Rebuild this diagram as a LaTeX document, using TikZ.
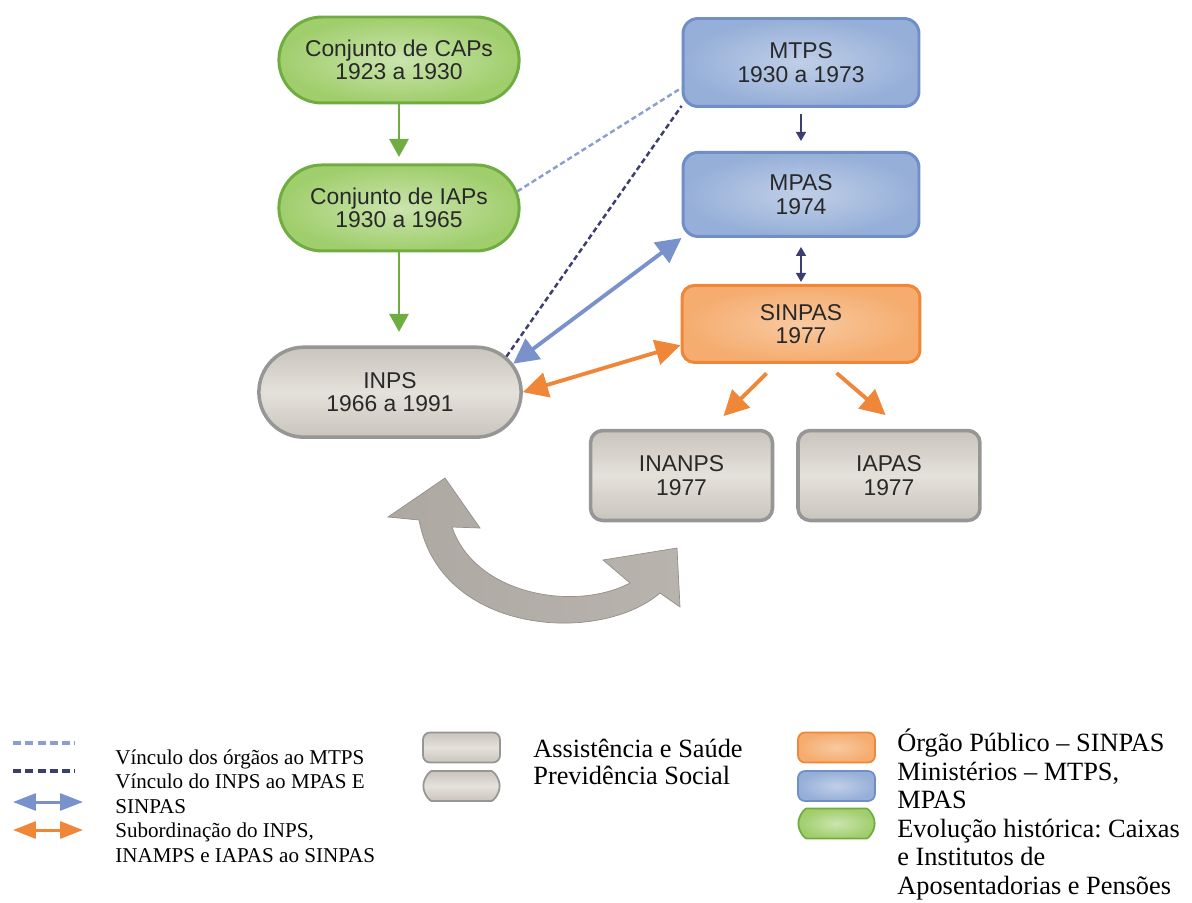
\documentclass[tikz,border=0pt]{standalone}
\usepackage{fontspec}
\setmainfont{Liberation Serif}
\newfontfamily\arialfont{Liberation Sans}
\usepackage{xcolor}
\usetikzlibrary{positioning,shapes.misc,arrows.meta,calc}
\frenchspacing

\definecolor{capfill}{RGB}{160,206,108}
\definecolor{capline}{RGB}{112,173,64}
\definecolor{minfill}{RGB}{150,175,216}
\definecolor{minline}{RGB}{112,142,200}
\definecolor{sinfill}{RGB}{245,172,110}
\definecolor{sinline}{RGB}{239,134,56}
\definecolor{prevfill}{RGB}{214,209,200}
\definecolor{prevline}{RGB}{150,150,150}
\definecolor{linklight}{RGB}{140,158,208}
\definecolor{linkdark}{RGB}{60,62,112}
\definecolor{linkblue}{RGB}{122,146,204}
\definecolor{arrowgray}{RGB}{184,179,172}
\definecolor{txtgray}{RGB}{40,40,40}

\begin{document}
\begin{tikzpicture}[
  x=0.02cm, y=-0.02cm,
  every node/.style={font=\arialfont\fontsize{13}{13.4}\selectfont,
                     text=txtgray, align=center},
  capbox/.style ={rounded rectangle, draw=capline, line width=1.7pt,
                  inner color=capfill!55!white, outer color=capfill,
                  minimum width=5.04cm, minimum height=1.72cm},
  minbox/.style ={rectangle, rounded corners=8.5pt, draw=minline,
                  line width=1.7pt, inner color=minfill!60!white,
                  outer color=minfill, minimum width=4.72cm,
                  minimum height=1.76cm},
  sinbox/.style ={rectangle, rounded corners=7pt, draw=sinline,
                  line width=1.7pt, inner color=sinfill!65!white,
                  outer color=sinfill, minimum width=4.76cm,
                  minimum height=1.54cm},
  prevcol/.style={draw=prevline, line width=2pt,
                  top color=prevfill!94!black, bottom color=prevfill!94!black,
                  middle color=prevfill!65!white},
  prevbox/.style={prevcol, rectangle, rounded corners=7pt,
                  minimum width=3.64cm, minimum height=1.8cm},
  prevpill/.style={prevcol, rounded rectangle,
                  minimum width=5.48cm, minimum height=1.8cm},
  legsample/.style={line width=1pt, minimum width=1.54cm,
                  minimum height=0.6cm, rounded corners=4pt},
  legpillw/.style={minimum width=1.76cm},
  legtxt/.style ={font=\fontsize{12}{13.9}\selectfont, text=black,
                  align=left, inner sep=0pt, anchor=base west},
  legbig/.style ={legtxt, font=\fontsize{15}{15.3}\selectfont},
  legbigr/.style={legtxt, font=\fontsize{15}{16.2}\selectfont},
  garr/.style   ={draw=capline, line width=1.6pt,
                  -{Triangle[length=0.36cm,width=0.38cm]}},
  narr/.style   ={draw=linkdark, line width=0.9pt,
                  -{Triangle[length=0.18cm,width=0.2cm]}},
  barr/.style   ={draw=linkblue, line width=2.2pt,
                  {Triangle[length=0.5cm,width=0.5cm]}-{Triangle[length=0.5cm,width=0.5cm]}},
  oarr/.style   ={draw=sinline, line width=2.2pt,
                  -{Triangle[length=0.5cm,width=0.5cm]}},
  lnklight/.style={draw=linklight, line width=1.4pt,
                  dash pattern=on 3pt off 1.8pt},
  lnkdark/.style={draw=linkdark, line width=1.4pt,
                  dash pattern=on 3pt off 1.8pt}
]
\useasboundingbox (0,0) rectangle (1192,902);

% caixas e institutos
\node[capbox] (caps) at (399,60) {Conjunto de CAPs\\1923 a 1930};
\node[capbox, below=1.18cm of caps] (iaps) {Conjunto de IAPs\\1930 a 1965};
\node[prevpill, below=1.86cm of iaps, xshift=-0.18cm] (inps)
     {INPS\\1966 a 1991};

% ministerios e SINPAS
\node[minbox] (mtps) at (801,62.5) {MTPS\\1930 a 1973};
\node[minbox, minimum height=1.68cm, below=0.86cm of mtps] (mpas)
     {MPAS\\1974};
\node[sinbox, below=0.92cm of mpas] (sinpas) {SINPAS\\1977};
\node[prevbox] (inanps) at (681.5,475.5) {INANPS\\1977};
\node[prevbox, right=0.44cm of inanps] (iapas) {IAPAS\\1977};

\draw[garr, shorten >=0.13cm] (caps.south) -- (iaps.north);
\draw[garr, shorten >=0.27cm] (iaps.south) -- (iaps.south |- inps.north);
\draw[narr, shorten <=0.12cm, shorten >=0.2cm] (mtps.south) -- (mpas.north);
\draw[narr, {Triangle[length=0.18cm,width=0.2cm]}-{Triangle[length=0.18cm,width=0.2cm]},
      shorten <=0.18cm, shorten >=0.04cm] (mpas.south) -- (sinpas.north);

\draw[lnklight] (iaps.8) -- (mtps.192);
\draw[lnkdark] (inps.17) -- (mtps.200);
\draw[barr] (inps.13) -- (mpas.south west);
\draw[oarr, {Triangle[length=0.5cm,width=0.5cm]}-{Triangle[length=0.5cm,width=0.5cm]}]
  (inps.east) -- (sinpas.190);
\draw[oarr, shorten <=0.27cm, shorten >=0.36cm] (sinpas.238) -- (inanps.58);
\draw[oarr, shorten <=0.28cm, shorten >=0.42cm] (sinpas.302) -- (iapas.75);

% seta curva
\shade[left color=arrowgray!94!black, middle color=arrowgray!40!white,
       right color=arrowgray, draw=arrowgray!80!black, line width=0.4pt]
  (677,548) -- (680,607) -- (660,593)
  .. controls (600,645) and (440,635) .. (419,520)
  -- (388,517) -- (445,478) -- (480,528) -- (452,527)
  .. controls (475,595) and (575,612) .. (630,583)
  -- (603,560) -- cycle;

% legenda
\coordinate (la1) at (13,743);  \coordinate (la2) at (75,743);
\coordinate (lb1) at (13,771);  \coordinate (lb2) at (75,771);
\coordinate (lc1) at (13,802);  \coordinate (lc2) at (83,802);
\coordinate (ld1) at (13,830);  \coordinate (ld2) at (83,830);
\draw[lnklight, line width=1.8pt, dash pattern=on 4.5pt off 2.5pt] (la1) -- (la2);
\draw[lnkdark, line width=1.8pt, dash pattern=on 4.5pt off 2.5pt] (lb1) -- (lb2);
\draw[draw=linkblue, line width=1.7pt,
      {Triangle[length=0.46cm,width=0.34cm]}-{Triangle[length=0.46cm,width=0.34cm]}]
  (lc1) -- (lc2);
\draw[draw=sinline, line width=1.7pt,
      {Triangle[length=0.46cm,width=0.34cm]}-{Triangle[length=0.46cm,width=0.34cm]}]
  (ld1) -- (ld2);
\node[legtxt] (legvinc) at (115,862)
     {Vínculo dos órgãos ao MTPS\\Vínculo do INPS ao MPAS E\\SINPAS\\
      Subordinação do INPS,\\INAMPS e IAPAS ao SINPAS};

\node[prevbox, legsample] (legbox) at (461.5,747.5) {};
\node[prevpill, legsample, legpillw] (legpill) at (461.5,786) {};
\node[legbig] (legprev) at (533,784)
     {Assistência e Saúde\\Previdência Social};

\node[sinbox, legsample] (legsin) at (836.5,747.5) {};
\node[minbox, legsample] (legmin) at (836.5,786) {};
\node[capbox, legsample, legpillw] (legcap) at (836.5,823.5) {};
\node[legbigr] (legorg) at (897,894)
     {Órgão Público – SINPAS\\Ministérios – MTPS,\\MPAS\\
      Evolução histórica: Caixas\\e Institutos de\\Aposentadorias e Pensões};

\end{tikzpicture}
\end{document}
